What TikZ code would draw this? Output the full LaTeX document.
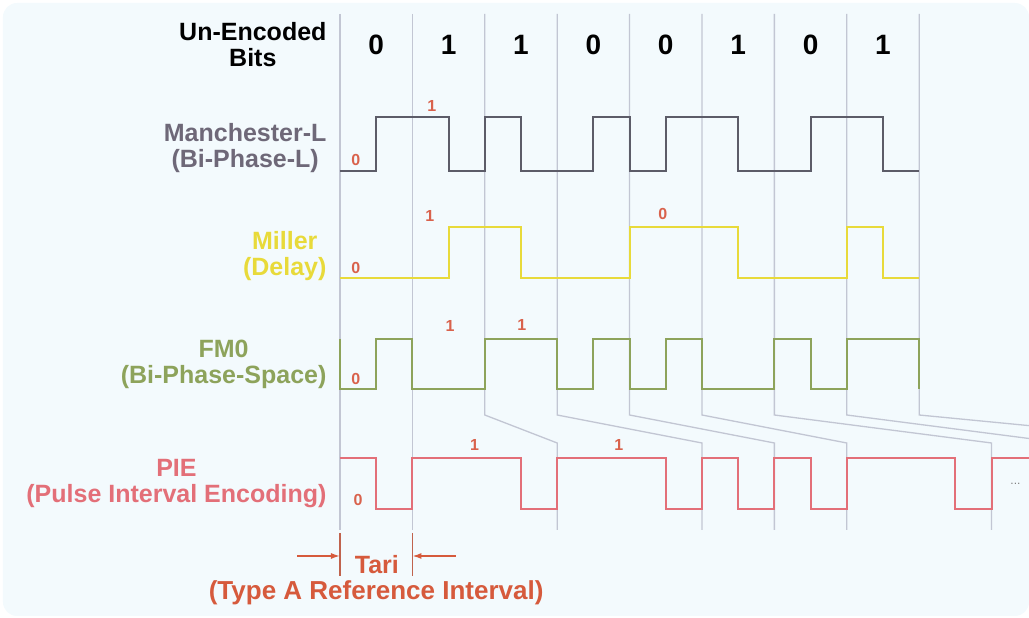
\documentclass[tikz,border=0pt]{standalone}
\usepackage{fontspec}
\setmainfont{Liberation Sans}
\usepackage{xcolor}
\usepackage{tikz}
\usetikzlibrary{arrows.meta}

\definecolor{sfondo}{HTML}{F3FAFD}
\definecolor{griglia}{HTML}{C2C6D3}
\definecolor{manchtxt}{HTML}{6E6878}
\definecolor{manchlin}{HTML}{5C5C68}
\definecolor{millcol}{HTML}{E8DA3A}
\definecolor{fmcol}{HTML}{8DA35B}
\definecolor{piecol}{HTML}{E36F78}
\definecolor{cifra}{HTML}{D9624C}
\definecolor{taricol}{HTML}{D65A3C}

\begin{document}
\begin{tikzpicture}[x=72.4pt,y=-1pt,>={Latex[length=9pt,width=6pt]},
  lab/.style={font=\fontsize{25}{26}\selectfont\bfseries,align=center,anchor=east},
  bitlab/.style={font=\fontsize{28}{28}\selectfont\bfseries},
  livello/.style={font=\fontsize{16}{16}\selectfont\bfseries,text=cifra,inner sep=1pt},
  onda/.style={line width=2pt,line join=miter}]
  \useasboundingbox (-4.696,0) rectangle (9.517,618);
  \fill[sfondo,rounded corners=14pt] (-4.655,3) rectangle (9.517,616);
  \begin{scope}
  \clip (-4.655,3) rectangle (9.517,616);
  % griglia dei bit (con raccordo verso i simboli PIE)
  \foreach \i/\p in {0/0,1/1,2/3,3/5,4/6,5/7,6/9,7/10,8/12}
    \draw[griglia,line width=1.3pt] (\i,14) -- (\i,415) -- (\p,443) -- (\p,530);
  % forme d'onda
  \draw[onda,manchlin] (0,171) -| (0.5,117) -| (1.5,171) -| (2,117) -| (2.5,171) -| (3.5,117) -| (4,171)
    -| (4.5,117) -| (5.5,171) -| (6.5,117) -| (7.5,171) -- (8,171);
  \draw[onda,millcol] (0,278) -| (1.5,227) -| (2.5,278) -| (4,227) -| (5.5,278) -| (7,227) -| (7.5,278) -- (8,278);
  \draw[onda,fmcol] (0,339) -- (0,389) -| (0.5,339) -| (1,389) -| (2,339) -| (3,389) -| (3.5,339) -| (4,389)
    -| (4.5,339) -| (5,389) -| (6,339) -| (6.5,389) -| (7,339) -| (8,389);
  \draw[onda,piecol] (0,458) -| (0.5,509) -| (1,458) -| (2.5,509) -| (3,458) -| (4.5,509) -| (5,458)
    -| (5.5,509) -| (6,458) -| (6.5,509) -| (7,458) -| (8.5,509) -| (9,458) -- (9.6,458);
  \end{scope}
  % bit non codificati
  \node[lab] (ue) at (-0.138,45) {Un-Encoded\\Bits};
  \foreach \b [count=\i from 0] in {0,1,1,0,0,1,0,1}
    \node[bitlab] (b\i) at (\i+0.5,45) {\b};
  % nomi delle codifiche
  \node[lab,manchtxt] (manch) at (-0.138,148) {Manchester-L\\(Bi-Phase-L)};
  \node[lab,millcol] (mill) at (-0.138,256) {Miller\\(Delay)};
  \node[lab,fmcol] (fm) at (-0.138,364) {FM0\\(Bi-Phase-Space)};
  \node[lab,piecol] (pie) at (-0.138,484) {PIE\\(Pulse Interval Encoding)};
  % livelli
  \node[livello] at (1.27,106) {1};
  \node[livello] at (0.22,160) {0};
  \node[livello] at (1.24,216) {1};
  \node[livello] at (0.22,268) {0};
  \node[livello] at (4.46,214) {0};
  \node[livello] at (1.52,326) {1};
  \node[livello] at (2.51,325) {1};
  \node[livello] at (0.22,379) {0};
  \node[livello] at (1.86,445) {1};
  \node[livello] at (3.85,445) {1};
  \node[livello] at (0.25,500) {0};
  \node[font=\fontsize{12}{12}\selectfont,text=gray] at (9.33,484) {...};
  % Tari
  \coordinate (ta) at (0,556);
  \coordinate (tb) at (1,556);
  \coordinate (sa) at (-0.59,556);
  \coordinate (sb) at (1.6,556);
  \draw[taricol!75!gray,line width=1.5pt] (0,533) -- (0,576) (1,533) -- (1,576);
  \draw[->,taricol,line width=1.5pt] (sa) -- (ta);
  \draw[->,taricol,line width=1.5pt] (sb) -- (tb);
  \node[font=\fontsize{25}{26}\selectfont\bfseries,text=taricol] (tari) at (0.51,565) {Tari};
  \node[font=\fontsize{26}{26}\selectfont\bfseries,text=taricol] (tarisub) at (0.5,593) {(Type A Reference Interval)};
\end{tikzpicture}
\end{document}
